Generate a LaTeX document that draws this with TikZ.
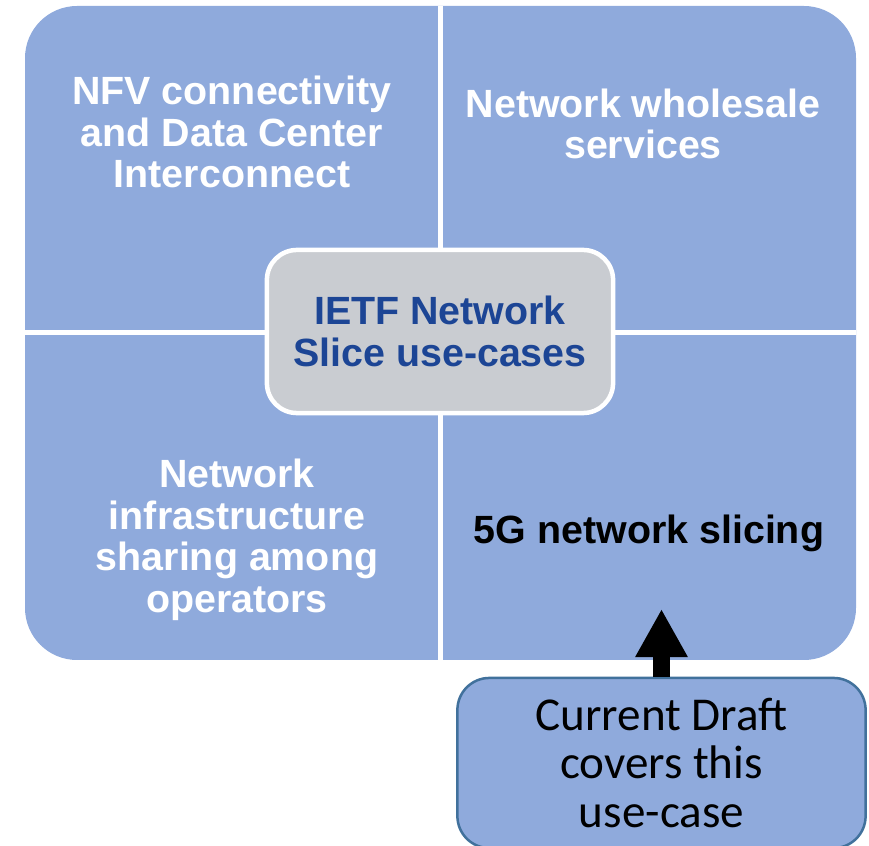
\documentclass[tikz,border=0pt]{standalone}
\usepackage{fontspec}
\setmainfont{Liberation Sans}
\newfontfamily\draftfont{Carlito}
\usetikzlibrary{arrows.meta}
\definecolor{quadblue}{HTML}{8FAADC}
\definecolor{hubgray}{HTML}{C9CCD1}
\definecolor{hubtext}{HTML}{1C4595}
\definecolor{draftline}{HTML}{41719C}

\tikzset{
  quadtext/.style={white, font=\bfseries\fontsize{11.2}{11.8}\selectfont, align=center, inner sep=0pt},
  hub/.style={fill=hubgray, draw=white, line width=0.045cm, rounded corners=0.3cm,
    minimum width=3.46cm, minimum height=1.63cm, inner sep=0pt, align=center,
    text=hubtext, font=\bfseries\fontsize{11.2}{11.8}\selectfont},
  draftbox/.style={fill=quadblue, draw=draftline, line width=0.025cm, rounded corners=0.32cm,
    minimum width=4.08cm, minimum height=1.70cm, inner sep=0pt, align=center,
    font=\draftfont\fontsize{13.4}{13.7}\selectfont},
}

\begin{document}
\begin{tikzpicture}[x=0.01cm, y=-0.01cm]
    \useasboundingbox (0,0) rectangle (869,846);
    \clip (0,0) rectangle (869,846);
    % quadrants
    \fill[quadblue, rounded corners=0.52cm] (25,6) rectangle (856,660);
    \draw[white, line width=0.05cm] (440.5,6) -- (440.5,660);
    \draw[white, line width=0.05cm] (25,333) -- (856,333);
    % text
    \node[quadtext] (nfv) at (232,132) {NFV connectivity\\and Data Center\\Interconnect};
    \node[quadtext] (wholesale) at (643,124) {Network wholesale\\services};
    \node[quadtext] (sharing) at (237,540) {Network\\infrastructure\\sharing among\\operators};
    \node[quadtext, text=black] (fiveg) at (649,533) {5G network slicing};
    % centre
    \node[hub] (hub) at (440,331.5) {IETF Network\\Slice use-cases};
    % draft
    \node[draftbox] (draft) at (661.5,763) {Current Draft\\covers this\\use-case};
    \coordinate (tip) at (661.5,609);
    \draw[-{Triangle[width=0.49cm,length=0.48cm]}, line width=0.17cm] (draft.north) -- (tip);
\end{tikzpicture}
\end{document}
